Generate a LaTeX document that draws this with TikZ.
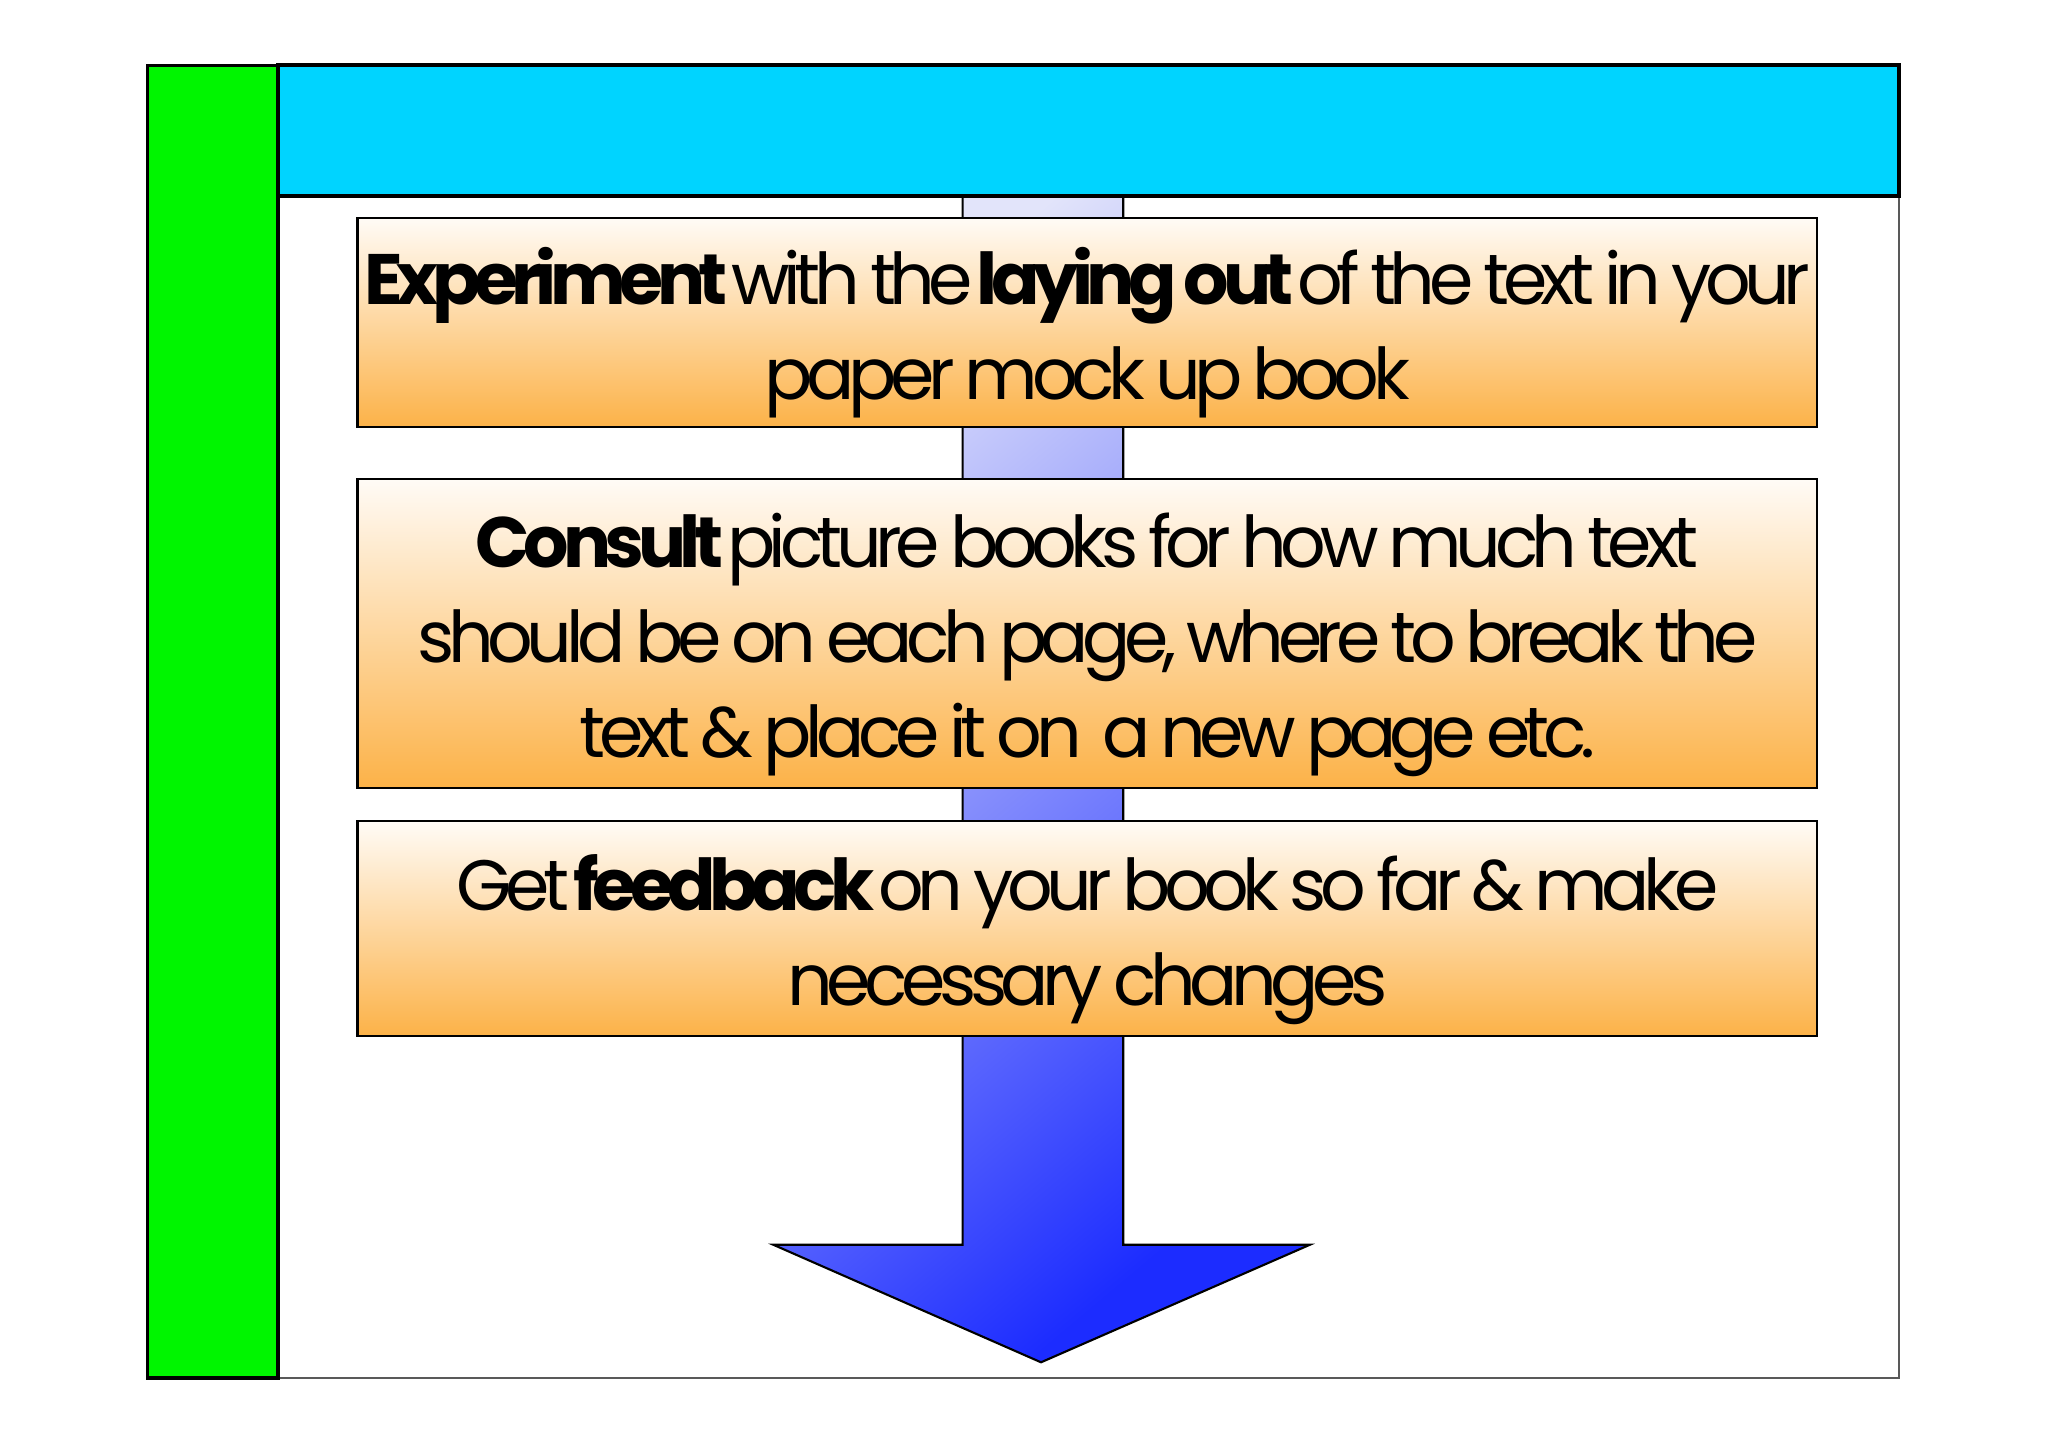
\documentclass[tikz,border=0pt]{standalone}
\usepackage{fontspec}
\setmainfont{Poppins}[LetterSpace=-9, WordSpace=0.8]
\usetikzlibrary{positioning}

\definecolor{barGreen}{RGB}{0,245,0}
\definecolor{barCyan}{RGB}{0,212,255}
\definecolor{boxTop}{RGB}{255,251,246}
\definecolor{boxBot}{RGB}{252,178,72}
\definecolor{arrowLight}{RGB}{226,228,250}
\definecolor{arrowDark}{RGB}{28,44,255}

\newcommand{\topstrut}{\rule{0pt}{22pt}}

\tikzset{
  stepbox/.style={rectangle, draw=black, line width=0.6pt,
    top color=boxTop, bottom color=boxBot,
    minimum width=14.59cm, inner sep=0pt, align=center,
    font=\fontsize{20.3}{27}\selectfont},
}

\begin{document}
\begin{tikzpicture}[x=0.01cm, y=0.01cm]
		\useasboundingbox (0,0) rectangle (2048,1447);
		% page frame
		\draw[black!65, line width=0.6pt] (147.6,69) rectangle (1899,1381.7);
		
		% big arrow behind the boxes
		\coordinate (shaftTL) at (962.6,1251);
		\coordinate (shaftTR) at (1123.2,1251);
		\coordinate (tip) at (1041,84.7);
		\shade[draw=black, line width=0.6pt, top color=arrowLight, bottom color=arrowDark, shading angle=40]
			(shaftTL) -- (962.6,202.3) -- (773.2,202.3) -- (tip) -- (1310,202.3) -- (1123.2,202.3) -- (shaftTR) -- cycle;
		
		\node [stepbox, minimum height=2.09cm] (exp) at (1087.4,1124.5)
			{\topstrut\textbf{Experiment} with the \textbf{laying out} of the text in your\\ paper mock up book};
		\node [stepbox, minimum height=3.085cm] (con) at (1087.4,813.7)
			{\topstrut\textbf{Consult} picture books for how much text\\ should be on each page, where to break the\\ text \& place it on\ \ a new page etc.};
		\node [stepbox, minimum height=2.142cm] (feed) at (1087.4,518.4)
			{\topstrut Get \textbf{feedback} on your book so far \& make\\ necessary changes};
		
		% side and title bars
		\draw[black, line width=1pt, fill=barGreen] (147.6,69) rectangle (278.2,1381.7);
		\draw[black, line width=1.2pt, fill=barCyan] (278.2,1251) rectangle (1899,1381.7);
		\end{tikzpicture}
\end{document}
